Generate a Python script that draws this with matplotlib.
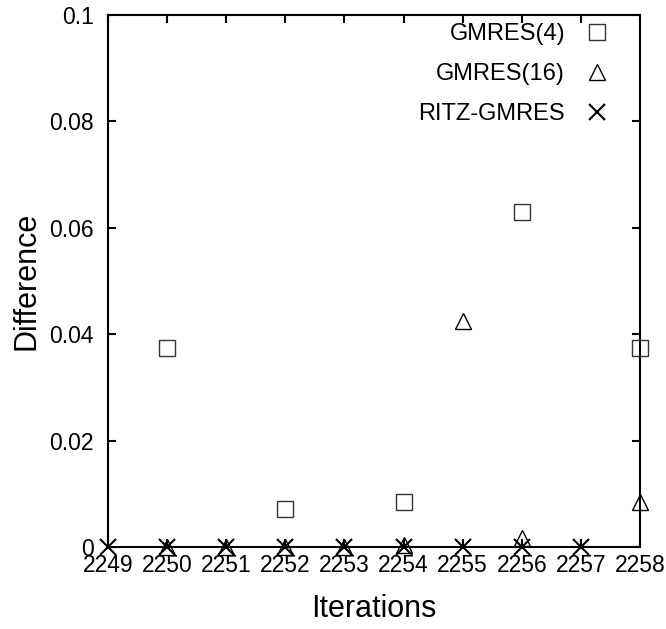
import matplotlib
matplotlib.use("Agg")
import matplotlib.pyplot as plt

plt.rcParams['font.family'] = ['Liberation Sans', 'DejaVu Sans']

gm4_x = [2250, 2252, 2254, 2256, 2258]
gm4_y = [0.0375, 0.0071, 0.0085, 0.063, 0.0375]

gm16_x = [2250, 2251, 2252, 2253, 2254, 2255, 2256, 2258]
gm16_y = [0.0, 0.0, 0.0, 0.0, 0.0003, 0.0425, 0.0016, 0.0085]

ritz_x = [2249, 2250, 2251, 2252, 2253, 2254, 2255, 2256, 2257]
ritz_y = [0.0, 0.0, 0.0, 0.0, 0.0, 0.0, 0.0, 0.0, 0.0]

xticks = list(range(2249, 2259))
yticks = [0, 0.02, 0.04, 0.06, 0.08, 0.1]
yticklabels = ["0", "0.02", "0.04", "0.06", "0.08", "0.1"]

fig = plt.figure(figsize=(6.66, 6.29), dpi=100)
ax = fig.add_axes([108/666, 1-547/629, (640-108)/666, (547-15)/629])

ax.plot(gm4_x, gm4_y, linestyle='none', marker='s', markersize=11.5,
        markerfacecolor='none', markeredgecolor='#333333', markeredgewidth=1.0,
        label='GMRES(4)', clip_on=False, zorder=3)
ax.plot(gm16_x, gm16_y, linestyle='none', marker='^', markersize=11,
        markerfacecolor='none', markeredgecolor='black', markeredgewidth=1.0,
        label='GMRES(16)', clip_on=False, zorder=3)
ax.plot(ritz_x, ritz_y, linestyle='none', marker='x', markersize=12,
        markeredgecolor='black', markeredgewidth=1.5,
        label='RITZ-GMRES', clip_on=False, zorder=4)

ax.set_xlim(2249, 2258)
ax.set_ylim(0, 0.1)
ax.set_xticks(xticks)
ax.set_xticklabels([str(v) for v in xticks])
ax.set_yticks(yticks)
ax.set_yticklabels(yticklabels)

for s in ax.spines.values():
    s.set_linewidth(1.5)
ax.tick_params(direction='in', length=6, width=1.5, top=True, right=True,
               labelsize=16.5)
ax.tick_params(axis='x', pad=5)
ax.tick_params(axis='y', pad=10)

ax.set_xlabel('Iterations', fontsize=22, labelpad=12)
ax.set_ylabel('Difference', fontsize=22, labelpad=5.5)

leg = ax.legend(loc='upper right', bbox_to_anchor=(0.97, 1.002),
                frameon=False, markerfirst=False,
                fontsize=17, labelspacing=0.75, handletextpad=0.6,
                handlelength=1.5, borderaxespad=0.0)
for t in leg.get_texts():
    t.set_ha('right')

fig.savefig('out.png', dpi=100)
